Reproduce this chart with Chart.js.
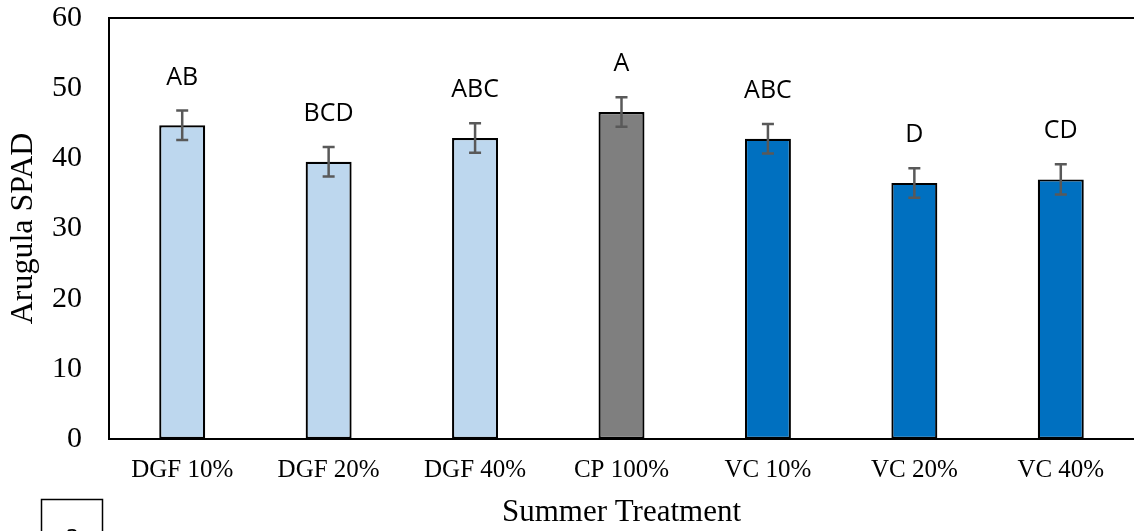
<!DOCTYPE html>
<html>
<head>
<meta charset="utf-8">
<script src="https://cdn.jsdelivr.net/npm/chart.js@4"></script>
<style>
  html, body { margin: 0; padding: 0; background: #fff; }
  #wrap { width: 1134px; height: 531px; }
</style>
</head>
<body>
<div id="wrap"><canvas id="chart"></canvas></div>
<script>
const treatments = ["DGF 10%", "DGF 20%", "DGF 40%", "CP 100%", "VC 10%", "VC 20%", "VC 40%"];
const spad = [44.7, 39.5, 42.9, 46.6, 42.8, 36.5, 37.0];
const spadErr = [2.1, 2.1, 2.1, 2.1, 2.1, 2.1, 2.15];
const groups = ["AB", "BCD", "ABC", "A", "ABC", "D", "CD"];
const barColors = ["#BDD7EE", "#BDD7EE", "#BDD7EE", "#7F7F7F", "#0070C0", "#0070C0", "#0070C0"];

// error bars, letters, top frame line and the "a" box
const extras = {
  id: "extras",
  afterDatasetsDraw(chart) {
    const ctx = chart.ctx;
    const y = chart.scales.y;
    const area = chart.chartArea;
    const bars = chart.getDatasetMeta(0).data;

    ctx.save();
    ctx.strokeStyle = "#595959";
    ctx.lineWidth = 2.5;
    bars.forEach((bar, i) => {
      const top = y.getPixelForValue(spad[i] + spadErr[i]);
      const bot = y.getPixelForValue(spad[i] - spadErr[i]);
      ctx.beginPath();
      ctx.moveTo(bar.x, top); ctx.lineTo(bar.x, bot);
      ctx.moveTo(bar.x - 6, top); ctx.lineTo(bar.x + 6, top);
      ctx.moveTo(bar.x - 6, bot); ctx.lineTo(bar.x + 6, bot);
      ctx.stroke();

      ctx.fillStyle = "#000";
      ctx.font = "25px 'Open Sans'";
      ctx.textAlign = "center";
      ctx.textBaseline = "middle";
      ctx.fillText(groups[i], bar.x, top - 33);
    });

    // top frame line
    ctx.strokeStyle = "#000";
    ctx.lineWidth = 2;
    ctx.beginPath();
    ctx.moveTo(area.left, area.top);
    ctx.lineTo(area.right, area.top);
    ctx.stroke();

    // panel letter box
    ctx.lineWidth = 1.5;
    ctx.strokeRect(41.5, 499.5, 61, 40);
    ctx.font = "26px 'Open Sans'";
    ctx.textAlign = "center";
    ctx.textBaseline = "alphabetic";
    ctx.fillText("a", 72, 543);
    ctx.restore();
  }
};

new Chart(document.getElementById("chart"), {
  type: "bar",
  data: {
    labels: treatments,
    datasets: [{
      data: spad,
      backgroundColor: barColors,
      borderColor: "#000",
      borderWidth: 2.2,
      borderSkipped: false,
      barPercentage: 0.314,
      categoryPercentage: 1
    }]
  },
  options: {
    responsive: true,
    maintainAspectRatio: false,
    animation: false,
    layout: { padding: { top: 18, right: 0, left: 0, bottom: 0 } },
    plugins: {
      legend: { display: false },
      tooltip: { enabled: false }
    },
    scales: {
      x: {
        grid: { display: false, drawTicks: false },
        border: { display: true, color: "#000", width: 2 },
        ticks: {
          color: "#000",
          font: { family: "'Liberation Serif'", size: 25 },
          padding: 16,
          maxRotation: 0
        },
        title: {
          display: true,
          text: "Summer Treatment",
          color: "#000",
          font: { family: "'Liberation Serif'", size: 31 },
          padding: { top: 0, bottom: 0 }
        },
        afterFit(scale) {
          scale.height = 92;
          scale.paddingLeft = 0;
          scale.paddingRight = 0;
        }
      },
      y: {
        min: 0,
        max: 60,
        grid: { display: false, drawTicks: false },
        border: { display: true, color: "#000", width: 2 },
        ticks: {
          stepSize: 10,
          color: "#000",
          font: { family: "'Liberation Serif'", size: 30 },
          padding: 27
        },
        title: {
          display: true,
          text: "Arugula SPAD",
          color: "#000",
          font: { family: "'Liberation Serif'", size: 32 },
          padding: { top: 4, bottom: 0 }
        },
        afterFit(scale) {
          scale.width = 109;
          scale.paddingTop = 0;
          scale.paddingBottom = 0;
        }
      }
    }
  },
  plugins: [extras]
});
</script>
</body>
</html>
